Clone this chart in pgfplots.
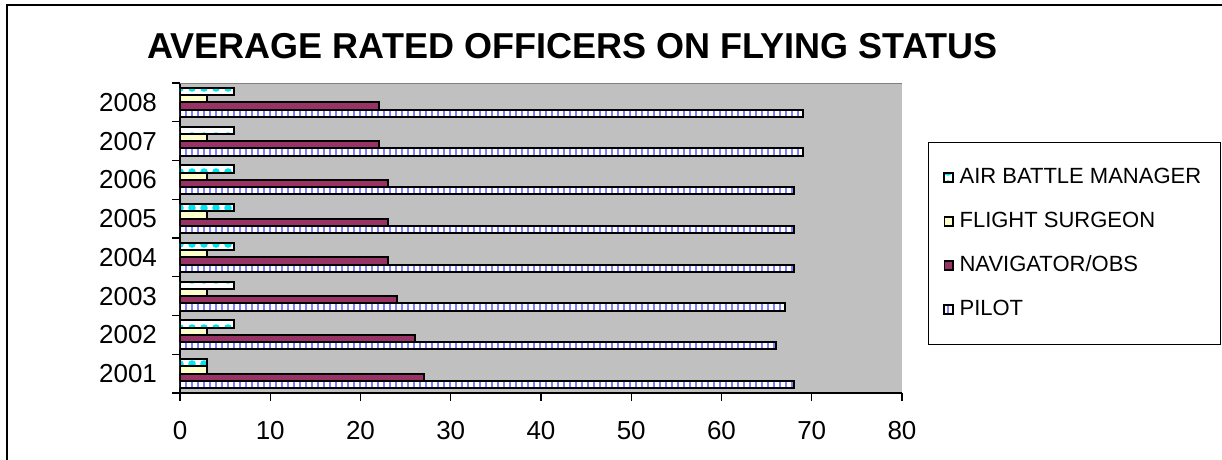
\documentclass[border=0pt]{standalone}
\usepackage{fontspec}
\setmainfont{Liberation Sans}
\usepackage{pgfplots}
\pgfplotsset{compat=1.18}
\usetikzlibrary{patterns.meta}
\definecolor{plotgray}{RGB}{192,192,192}
\definecolor{pilotblue}{RGB}{128,128,255}
\definecolor{navpurple}{RGB}{153,51,102}
\definecolor{fsyellow}{RGB}{255,255,204}
\definecolor{abmcyan}{RGB}{0,230,240}

\begin{document}
\begin{tikzpicture}
\path[use as bounding box] (0,0) rectangle (611pt,230pt);
\draw[line width=1.3pt] (3.5pt,0) -- (3.5pt,227.5pt) -- (611pt,227.5pt);
\node[anchor=base west, font=\fontsize{18}{20}\selectfont\bfseries, inner sep=0pt] at (73.5pt,200.5pt) {AVERAGE RATED OFFICERS ON FLYING STATUS};
\begin{axis}[
 at={(90pt,33.5pt)}, anchor=south west,
 scale only axis, width=361pt, height=155pt,
 xbar=0pt, bar width=3.6pt,
 xmin=0, xmax=80, ymin=2000.5, ymax=2008.5,
 axis background/.style={fill=plotgray},
 axis x line*=bottom, axis y line*=left,
 axis line style={black, line width=0.6pt, -},
 xtick={0,10,...,80},
 ytick={2000.5,2001.5,...,2008.5}, yticklabels={},
 extra y ticks={2001,2002,...,2008},
 extra y tick labels={2001,2002,2003,2004,2005,2006,2007,2008},
 extra y tick style={major tick length=0pt},
 tick align=outside, major tick length=3.8pt,
 tick style={black, line width=0.6pt},
 /pgf/number format/assume math mode=true,
 tick label style={font=\fontsize{13}{15}\selectfont},
 xticklabel style={yshift=-7pt},
 yticklabel style={xshift=-8pt},
 legend cell align=left, reverse legend,
 legend style={at={(1.036,0.81)}, anchor=north west, draw=black, line width=0.6pt, fill=white,
   font=\fontsize{11}{13}\selectfont, inner xsep=7.5pt, inner ysep=11pt, row sep=8.7pt,
   /tikz/every odd column/.append style={column sep=1pt}},
 legend image code/.code={\draw[#1, line width=0.8pt] (0pt,-2.2pt) rectangle (4.2pt,2.2pt);},
]
\draw[gray, line width=1pt] (rel axis cs:0,1) -- (rel axis cs:1,1);
\addplot[draw=black, line width=1pt, preaction={fill=white}, pattern={Lines[angle=90,distance=3pt,line width=1.2pt]}, pattern color=pilotblue]
 coordinates {(68,2001) (66,2002) (67,2003) (68,2004) (68,2005) (68,2006) (69,2007) (69,2008)};
\addplot[draw=black, line width=1pt, fill=navpurple]
 coordinates {(27,2001) (26,2002) (24,2003) (23,2004) (23,2005) (23,2006) (22,2007) (22,2008)};
\addplot[draw=black, line width=1pt, fill=fsyellow]
 coordinates {(3,2001) (3,2002) (3,2003) (3,2004) (3,2005) (3,2006) (3,2007) (3,2008)};
\addplot[draw=black, line width=1pt, preaction={fill=white}, pattern={Dots[radius=1.9pt,distance=6pt]}, pattern color=abmcyan]
 coordinates {(3,2001) (6,2002) (6,2003) (6,2004) (6,2005) (6,2006) (6,2007) (6,2008)};
\legend{PILOT,NAVIGATOR/OBS,FLIGHT SURGEON,AIR BATTLE MANAGER}
\end{axis}
\end{tikzpicture}
\end{document}
